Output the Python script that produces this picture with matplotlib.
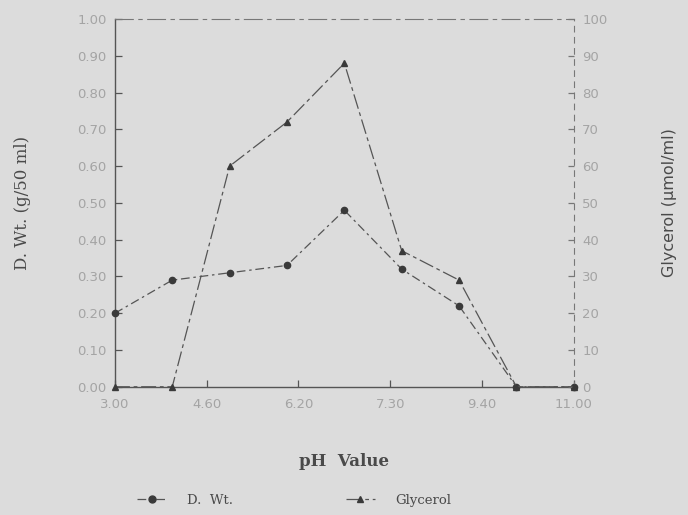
import matplotlib
matplotlib.use("Agg")
import matplotlib.pyplot as plt
from matplotlib.lines import Line2D

# data
ph = [3, 4, 5, 6, 7, 8, 9, 10, 11]
dry_weight = [0.20, 0.29, 0.31, 0.33, 0.48, 0.32, 0.22, 0.00, 0.00]
glycerol = [0, 0, 60, 72, 88, 37, 29, 0, 0]

x_ticks = [3.0, 4.6, 6.2, 7.8, 9.4, 11.0]
x_tick_labels = ["3.00", "4.60", "6.20", "7.30", "9.40", "11.00"]
left_ticks = [i / 10 for i in range(11)]
left_tick_labels = [f"{v:.2f}" for v in left_ticks]
right_ticks = list(range(0, 101, 10))

BG = "#dcdcdc"
LINE = "#555555"
TICK_TXT = "#a4a4a4"
LABEL = "#4a4a4a"

fig = plt.figure(figsize=(6.88, 5.15), dpi=100, facecolor=BG)
ax = fig.add_axes([0.167, 0.249, 0.667, 0.714], facecolor=BG)
ax2 = ax.twinx()

dw_style = (0, (7, 3, 2, 3))
gl_style = (0, (12, 3, 3, 3))

ax.plot(ph, dry_weight, color=LINE, lw=0.9, ls=dw_style, marker="o", ms=4.5,
        markerfacecolor="#3a3a3a", markeredgecolor="#3a3a3a", zorder=3, clip_on=False)
ax2.plot(ph, glycerol, color=LINE, lw=0.9, ls=gl_style, marker="^", ms=4.5,
         markerfacecolor="#3a3a3a", markeredgecolor="#3a3a3a", zorder=3, clip_on=False)

ax.set_xlim(3, 11)
ax.set_ylim(0, 1.0)
ax2.set_ylim(0, 100)

ax.set_xticks(x_ticks)
ax.set_xticklabels(x_tick_labels)
ax.set_yticks(left_ticks)
ax.set_yticklabels(left_tick_labels)
ax2.set_yticks(right_ticks)

for a in (ax, ax2):
    for s in a.spines.values():
        s.set_color(LINE)
        s.set_linewidth(1.0)
ax.spines["top"].set_visible(False)
ax.spines["right"].set_visible(False)
ax2.spines["left"].set_visible(False)
ax2.spines["bottom"].set_visible(False)
ax2.spines["top"].set_color("#777777")
ax2.spines["top"].set_linewidth(0.8)
ax2.spines["top"].set_linestyle((0, (16, 5, 3, 5)))
ax2.spines["right"].set_color("#777777")
ax2.spines["right"].set_linewidth(0.8)
ax2.spines["right"].set_linestyle((0, (5, 5)))

ax.tick_params(axis="both", direction="in", length=5, width=0.9, color=LINE,
               labelcolor=TICK_TXT, labelsize=9.5, pad=6)
ax.tick_params(axis="x", pad=8)
ax2.tick_params(axis="y", direction="in", length=4, width=0.9, color="#777777",
                labelcolor=TICK_TXT, labelsize=9.5, pad=6)

ax.set_ylabel("D. Wt. (g/50 ml)", family="DejaVu Serif", fontsize=12,
              color=LABEL, labelpad=33)
ax2.set_ylabel("Glycerol (\u00b5mol/ml)", family="DejaVu Sans", fontsize=11.5,
               color=LABEL, labelpad=39)
ax.set_xlabel("pH  Value", family="DejaVu Serif", fontsize=12, fontweight="bold",
              color=LABEL, labelpad=30)

handles = [
    Line2D([], [], color=LINE, lw=0.9, ls=dw_style, marker="o", ms=5,
           markerfacecolor="#3a3a3a", markeredgecolor="#3a3a3a"),
    Line2D([], [], color=LINE, lw=0.9, ls=gl_style, marker="^", ms=5,
           markerfacecolor="#3a3a3a", markeredgecolor="#3a3a3a"),
]
fig.legend(handles, ["D.  Wt.", "Glycerol"], loc="center", ncol=2,
           bbox_to_anchor=(0.428, 0.028), frameon=False, handlelength=2.2,
           handletextpad=1.6, columnspacing=8.5,
           prop={"family": "DejaVu Serif", "size": 9.5}, labelcolor=LABEL)

fig.savefig("out.png", dpi=100, facecolor=BG)
